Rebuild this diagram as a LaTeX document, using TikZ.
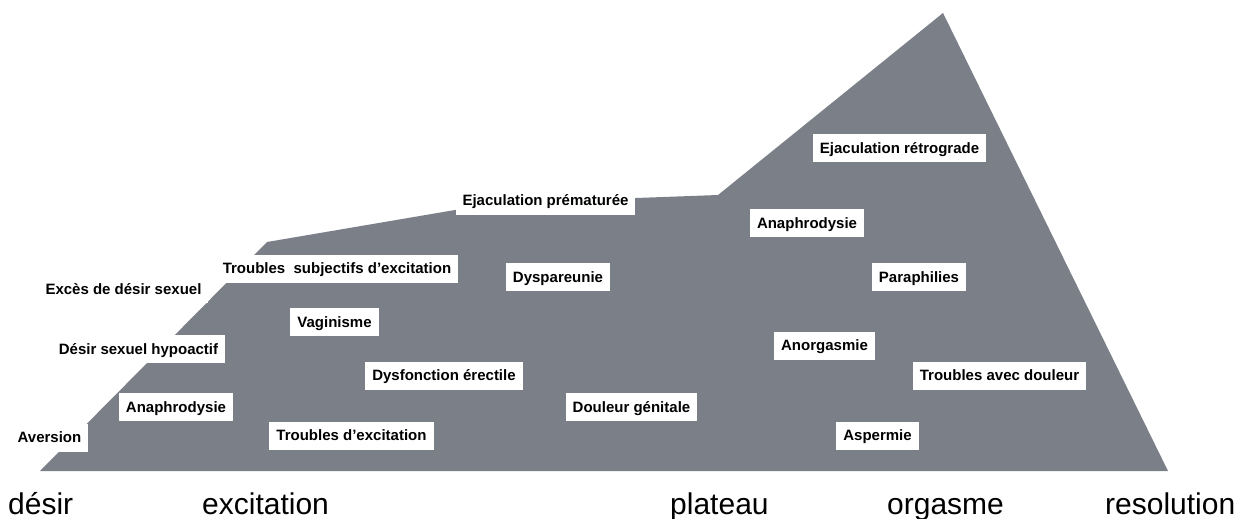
\documentclass[tikz,border=0pt]{standalone}
\usepackage{fontspec}
\setmainfont{Liberation Sans}
\definecolor{pente}{RGB}{123,127,136}
\tikzset{
  trouble/.style={fill=white, font=\fontsize{15}{17}\selectfont\bfseries,
    inner xsep=7pt, inner ysep=0pt, minimum height=28pt,
    text height=10.8pt, text depth=0pt},
  phase/.style={anchor=base west, inner sep=0pt, font=\fontsize{30}{34}\selectfont}
}

\begin{document}
\begin{tikzpicture}[x=1pt,y=-1pt]
        \useasboundingbox (0,0) rectangle (1244,519);
        % la courbe de la reponse sexuelle
        \coordinate (p0) at (40,471);
        \coordinate (p1) at (267,242);
        \coordinate (p2) at (455,210);
        \coordinate (p3) at (636,198);
        \coordinate (p4) at (718,195);
        \coordinate (sommet) at (943,13);
        \coordinate (p5) at (1168,471);
        \fill[pente] (p0) -- (p1) -- (p2) -- (p3) -- (p4) -- (sommet) -- (p5) -- cycle;
        % desir
        \node[trouble] (aversion) at (49.5,437.5) {Aversion};
        \node[trouble] (hypoactif) at (138.5,349) {Désir sexuel hypoactif};
        \node[trouble] (exces) at (123.5,289) {Excès de désir sexuel};
        \node[trouble] (anaphroA) at (176,407) {Anaphrodysie};
        % excitation
        \node[trouble] (subjectifs) at (337,268.5) {Troubles~ subjectifs d’excitation};
        \node[trouble] (vaginisme) at (334.5,322) {Vaginisme};
        \node[trouble] (erectile) at (444,375.5) {Dysfonction érectile};
        \node[trouble] (excitation) at (351.5,435.5) {Troubles d’excitation};
        % plateau
        \node[trouble] (premature) at (545.5,200.5) {Ejaculation prématurée};
        \node[trouble] (dyspareunie) at (558,277) {Dyspareunie};
        \node[trouble] (genitale) at (631.5,407) {Douleur génitale};
        % orgasme
        \node[trouble] (retrograde) at (899.5,148) {Ejaculation rétrograde};
        \node[trouble] (anaphroB) at (807,223) {Anaphrodysie};
        \node[trouble] (paraphilies) at (919,277) {Paraphilies};
        \node[trouble] (anorgasmie) at (824.5,345.5) {Anorgasmie};
        \node[trouble] (douleur) at (999.5,375.5) {Troubles avec douleur};
        \node[trouble] (aspermie) at (877.5,435.5) {Aspermie};
        % les phases
        \node[phase] (desir) at (8,514) {désir};
        \node[phase] (excit) at (202,514) {excitation};
        \node[phase] (plateau) at (670,514) {plateau};
        \node[phase] (orgasme) at (887,514) {orgasme};
        \node[phase] (resolution) at (1105,514) {resolution};
    \end{tikzpicture}
\end{document}
